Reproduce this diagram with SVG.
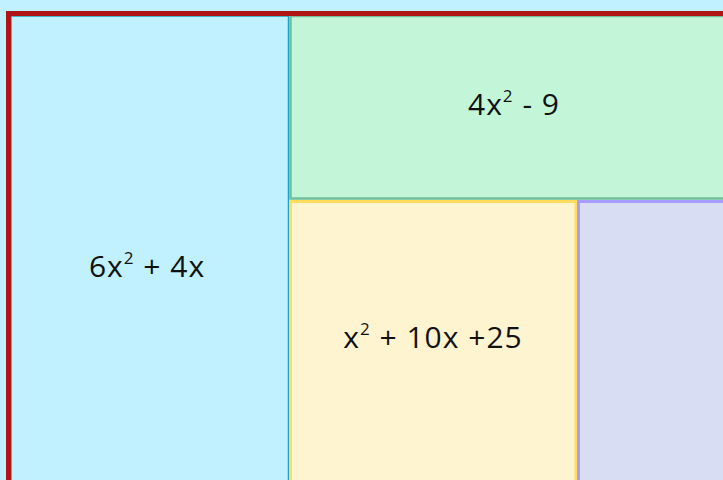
<svg xmlns="http://www.w3.org/2000/svg" width="723" height="480" viewBox="0 0 723 480">
<style>
.lbl{font-family:"Open Sans","Liberation Sans",sans-serif;font-size:30px;fill:#111;text-anchor:middle;letter-spacing:1px}
.sup{font-size:17px}
</style>
<rect x="0" y="0" width="723" height="480" fill="#c1f0ff"/>
<g id="blue">
<rect x="11" y="16" width="277.5" height="480" fill="#c1f0ff" stroke="#1aa3c8" stroke-width="1.5"/>
<text class="lbl" x="147" y="277">6x<tspan class="sup" dy="-13">2</tspan><tspan dy="13"> + 4x</tspan></text>
</g>
<g id="green">
<rect x="290.5" y="16" width="450" height="182.5" fill="#c3f5d8" stroke="#74bf98" stroke-width="2.5"/>
<text class="lbl" x="514" y="115">4x<tspan class="sup" dy="-13">2</tspan><tspan dy="13"> - 9</tspan></text>
</g>
<g id="yellow">
<rect x="290.5" y="201.5" width="285.5" height="300" fill="#fff4d0" stroke="#ffdc5c" stroke-width="3"/>
<text class="lbl" x="433" y="348">x<tspan class="sup" dy="-13">2</tspan><tspan dy="13"> + 10x +25</tspan></text>
</g>
<g id="purple">
<rect x="578.5" y="201.5" width="200" height="300" fill="#d8ddf4" stroke="#a99cff" stroke-width="3"/>
</g>
<g id="frame">
<rect x="8.5" y="13.5" width="800" height="600" fill="none" stroke="#b01515" stroke-width="5"/>
</g>
<g id="connectors"/>
</svg>
